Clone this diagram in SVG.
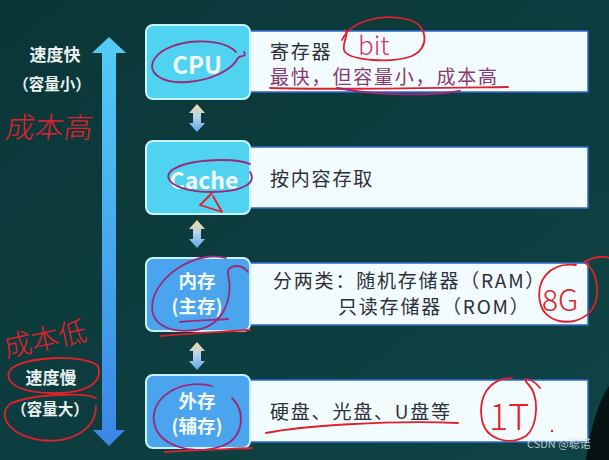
<svg xmlns="http://www.w3.org/2000/svg" width="609" height="460" viewBox="0 0 609 460">
<defs>
<linearGradient id="bg" x1="0" y1="0" x2="1" y2="1">
<stop offset="0" stop-color="#0b3638"/>
<stop offset="1" stop-color="#0f4444"/>
</linearGradient>
<linearGradient id="bigArrow" x1="0" y1="0" x2="0" y2="1">
<stop offset="0" stop-color="#52cdf6"/>
<stop offset="1" stop-color="#3b86e6"/>
</linearGradient>
<linearGradient id="smallArrow" x1="0" y1="0" x2="0" y2="1">
<stop offset="0" stop-color="#f2dc98"/>
<stop offset="0.45" stop-color="#b8d4e8"/>
<stop offset="1" stop-color="#5aa6f0"/>
</linearGradient>
<style>
.lbox{stroke:#c6f3ff;stroke-width:2}
.cyan{fill:#4fd3f1}
.blue{fill:#4aa4ee}
.rbox{fill:#f2fbfd;stroke:#2f6ad0;stroke-width:1.5}
.ltxt{font-family:"Noto Sans CJK SC","Liberation Sans",sans-serif;font-weight:bold;fill:#f4fbff;text-anchor:middle}
.rtxt{font-family:"Noto Sans CJK SC","Liberation Sans",sans-serif;font-size:19px;fill:#2c3038;letter-spacing:1.8px}
.side{font-family:"Noto Sans CJK SC","Liberation Sans",sans-serif;font-weight:bold;fill:#e8f0f0;text-anchor:middle}
.ink{fill:none;stroke:#e0202c;stroke-width:1.8;stroke-linecap:round;stroke-linejoin:round}
.inkp{fill:none;stroke:#9a2a78;stroke-width:1.8;stroke-linecap:round}
.hand{font-family:"Noto Sans CJK SC",sans-serif;font-weight:300;fill:#e4202c}
</style>
</defs>
<rect width="609" height="460" fill="url(#bg)"/>

<g id="connectors">
<path d="M109,37 L126,53 L116,53 L116,430 L125,430 L109,446 L93,430 L102,430 L102,53 L92,53 Z" fill="url(#bigArrow)"/>
<path d="M197,104 L205,113 L201,113 L201,123 L205,123 L197,132 L189,123 L193,123 L193,113 L189,113 Z" fill="url(#smallArrow)"/>
<path d="M197,220 L205,229 L201,229 L201,239 L205,239 L197,248 L189,239 L193,239 L193,229 L189,229 Z" fill="url(#smallArrow)"/>
<path d="M197,342 L205,351 L201,351 L201,361 L205,361 L197,370 L189,361 L193,361 L193,351 L189,351 Z" fill="url(#smallArrow)"/>
</g>

<g id="side-labels">
<text class="side" x="55" y="61" font-size="17">速度快</text>
<text class="side" x="52" y="90" font-size="15.5">（容量小）</text>
<text class="side" x="51" y="384" font-size="17">速度慢</text>
<text class="side" x="50" y="415" font-size="15.5">（容量大）</text>
</g>

<g id="cpu">
<rect class="rbox" x="240" y="31" width="348" height="61"/>
<rect class="lbox cyan" x="146" y="25" width="104" height="74" rx="7"/>
<text class="ltxt" x="197" y="74" font-size="24">CPU</text>
<text class="rtxt" x="270" y="59">寄存器</text>
<text class="rtxt" x="270" y="84" style="fill:#8a3a70">最快，但容量小，成本高</text>
</g>

<g id="cache">
<rect class="rbox" x="240" y="147" width="348" height="61"/>
<rect class="lbox cyan" x="146" y="141" width="104" height="73" rx="7"/>
<text class="ltxt" x="204" y="189" font-size="23">Cache</text>
<text class="rtxt" x="270" y="186">按内容存取</text>
</g>

<g id="main-memory">
<rect class="rbox" x="240" y="263" width="348" height="62"/>
<rect class="lbox blue" x="146" y="258" width="104" height="73" rx="7"/>
<text class="ltxt" x="197" y="288" font-size="18.5">内存</text>
<text class="ltxt" x="197" y="313" font-size="18.5">(主存)</text>
<text class="rtxt" x="273" y="288">分两类：随机存储器（RAM）</text>
<text class="rtxt" x="338" y="314">只读存储器（ROM）</text>
</g>

<g id="external-memory">
<rect class="rbox" x="240" y="380" width="348" height="62"/>
<rect class="lbox blue" x="146" y="375" width="104" height="73" rx="7"/>
<text class="ltxt" x="197" y="408" font-size="18.5">外存</text>
<text class="ltxt" x="197" y="433" font-size="18.5">(辅存)</text>
<text class="rtxt" x="270" y="419">硬盘、光盘、U盘等</text>
</g>

<g id="annotations">
<text class="hand" x="6" y="138" font-size="29" transform="skewX(-8) translate(18,0)">成本高</text>
<text class="hand" x="2" y="350" font-size="28" transform="rotate(-12 40 335)">成本低</text>
<path class="inkp" d="M236,52 C222,36 170,38 155,58 C146,72 160,84 188,82 C212,80 232,70 238,58 C242,54 247,58 244,52"/>
<path class="inkp" d="M250,164 C236,158 190,158 172,170 C160,180 178,192 212,192 C240,192 258,184 250,172"/>
<path class="ink" d="M212,193 L200,205 L222,212 L213,196"/>
<path class="inkp" d="M226,258 C200,250 160,272 153,300 C148,322 166,334 196,330 C222,326 234,300 228,274 C226,266 240,262 248,272"/>
<path class="inkp" d="M180,322 C198,320 214,320 228,319"/>
<path class="ink" d="M160,336 C190,333 220,332 250,330"/>
<path class="inkp" d="M212,386 C180,378 150,398 154,422 C158,446 192,456 222,446 C244,438 246,412 232,398"/>
<path class="ink" d="M165,452 C200,450 230,449 252,448"/>
<path class="ink" d="M98,366 C85,354 30,356 12,368 C2,378 12,392 50,393 C80,394 104,386 98,366"/>
<path class="ink" d="M96,398 C86,392 30,394 10,404 C-2,414 6,434 40,440 C70,444 96,430 96,406"/>
<path class="ink" d="M342,40 C350,22 380,12 410,20 C428,26 430,48 412,56 C390,64 352,60 345,52 C340,46 350,34 345,30"/>
<text class="hand" x="358" y="55" font-size="26" style="fill:#d8306a">bit</text>
<path class="ink" d="M270,88 C340,90 440,88 508,87"/>
<path class="inkp" d="M337,88 C380,96 430,96 460,91"/>
<path class="ink" d="M576,265 C548,262 536,282 540,302 C544,324 575,328 590,312 C602,298 598,270 584,262 C596,256 604,256 609,258"/>
<text class="hand" x="542" y="311" font-size="30">8G</text>
<path class="ink" d="M512,378 C488,378 478,398 482,420 C486,440 510,446 526,436 C538,426 540,396 528,384 C520,376 532,378 540,388"/>
<text class="hand" x="489" y="430" font-size="36">1T</text>
<circle cx="552" cy="431" r="1.2" fill="#e0202c"/>
<path class="ink" d="M266,433 C300,426 390,420 458,423"/>
</g>

<path d="M609,386 C600,400 592,420 586,460 L609,460 Z" fill="#081212"/>
<text x="527" y="448" font-family="Noto Sans CJK SC, Liberation Sans, sans-serif" font-size="11" fill="#d8dede" fill-opacity="0.85">CSDN @聪诺</text>
</svg>
